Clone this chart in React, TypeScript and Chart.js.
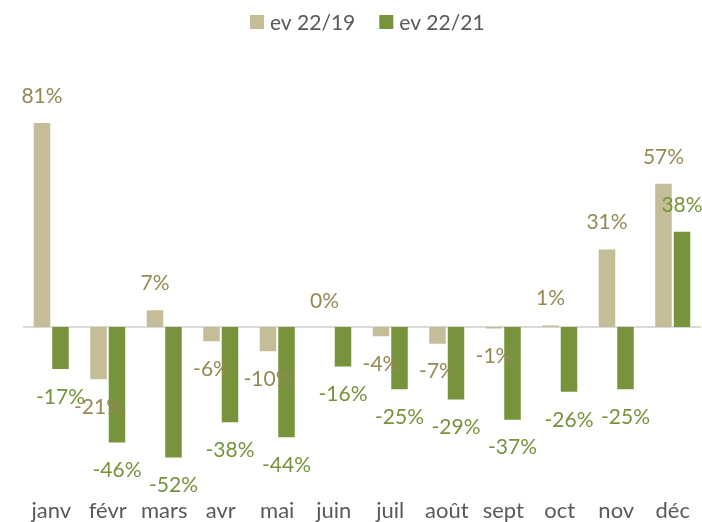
import React, { useEffect, useRef } from "react";
import { Chart, registerables } from "chart.js";

Chart.register(...registerables);

const months = ["janv", "févr", "mars", "avr", "mai", "juin", "juil", "août", "sept", "oct", "nov", "déc"];
const ev2219 = [81, -21, 7, -6, -10, 0, -4, -7, -1, 1, 31, 57];
const ev2221 = [-17, -46, -52, -38, -44, -16, -25, -29, -37, -26, -25, 38];
const seriesNames = ["ev 22/19", "ev 22/21"];
const barColors = ["#c4bd97", "#77933c"];
const labelColors = ["#948a54", "#77933c"];

const FONT = "Lato, 'Open Sans', sans-serif";

const labelPlugin = {
  id: "valueLabels",
  afterDatasetsDraw(chart: any) {
    const ctx = chart.ctx;
    ctx.save();
    ctx.font = `21px ${FONT}`;
    ctx.textAlign = "center";
    ctx.textBaseline = "middle";
    chart.data.datasets.forEach((ds: any, di: number) => {
      const meta = chart.getDatasetMeta(di);
      meta.data.forEach((el: any, i: number) => {
        const v = ds.data[i];
        ctx.fillStyle = labelColors[di];
        const y = v >= 0 ? el.y - 26 : el.y + 27;
        ctx.fillText(`${v}%`, el.x, y);
      });
    });
    ctx.restore();
  },
};

const zeroLinePlugin = {
  id: "zeroLine",
  beforeDatasetsDraw(chart: any) {
    const ctx = chart.ctx;
    const y = chart.scales.y.getPixelForValue(0);
    ctx.save();
    ctx.strokeStyle = "#d9d9d9";
    ctx.lineWidth = 2;
    ctx.beginPath();
    ctx.moveTo(chart.chartArea.left, y);
    ctx.lineTo(chart.chartArea.right, y);
    ctx.stroke();
    ctx.restore();
  },
};

const legendPlugin = {
  id: "customLegend",
  afterDraw(chart: any) {
    const ctx = chart.ctx;
    ctx.save();
    ctx.font = `21px ${FONT}`;
    ctx.textBaseline = "middle";
    ctx.textAlign = "left";
    const box = 14;
    const gap = 6;
    const itemGap = 24;
    const widths = seriesNames.map((n) => box + gap + ctx.measureText(n).width);
    let x = 250;
    const cy = 22;
    seriesNames.forEach((n, i) => {
      ctx.fillStyle = barColors[i];
      ctx.fillRect(x, cy - box / 2, box, box);
      ctx.fillStyle = "#595959";
      ctx.fillText(n, x + box + gap, cy + 1);
      x += widths[i] + itemGap;
    });
    ctx.restore();
  },
};

export default function App() {
  const ref = useRef<HTMLCanvasElement>(null);
  useEffect(() => {
    if (!ref.current) return;
    const chart = new Chart(ref.current, {
      type: "bar",
      data: {
        labels: months,
        datasets: [
          { label: seriesNames[0], data: ev2219, backgroundColor: barColors[0], borderColor: "rgba(255,255,255,0.5)", borderWidth: 1 },
          { label: seriesNames[1], data: ev2221, backgroundColor: barColors[1], borderColor: "rgba(255,255,255,0.5)", borderWidth: 1 },
        ],
      },
      options: {
        animation: false,
        responsive: false,
        maintainAspectRatio: false,
        layout: { padding: { left: 23, right: 1, top: 75, bottom: 0 } },
        datasets: { bar: { categoryPercentage: 0.655, barPercentage: 1 } },
        plugins: {
          legend: { display: false },
          tooltip: { enabled: false },
        },
        scales: {
          x: {
            grid: { display: false, drawTicks: false },
            border: { display: false },
            ticks: { color: "#595959", font: { family: FONT, size: 22 }, padding: 5, maxRotation: 0, autoSkip: false },
            afterFit(scale: any) {
              scale.height = 29;
            },
          },
          y: {
            display: false,
            min: -65.6,
            max: 99.6,
          },
        },
      },
      plugins: [zeroLinePlugin, labelPlugin, legendPlugin],
    });
    return () => chart.destroy();
  }, []);
  return (
    <div style={{ position: "fixed", left: 0, top: 0, width: 702, height: 522, background: "#fff" }}>
      <canvas ref={ref} width={702} height={522} style={{ width: 702, height: 522 }} />
    </div>
  );
}
